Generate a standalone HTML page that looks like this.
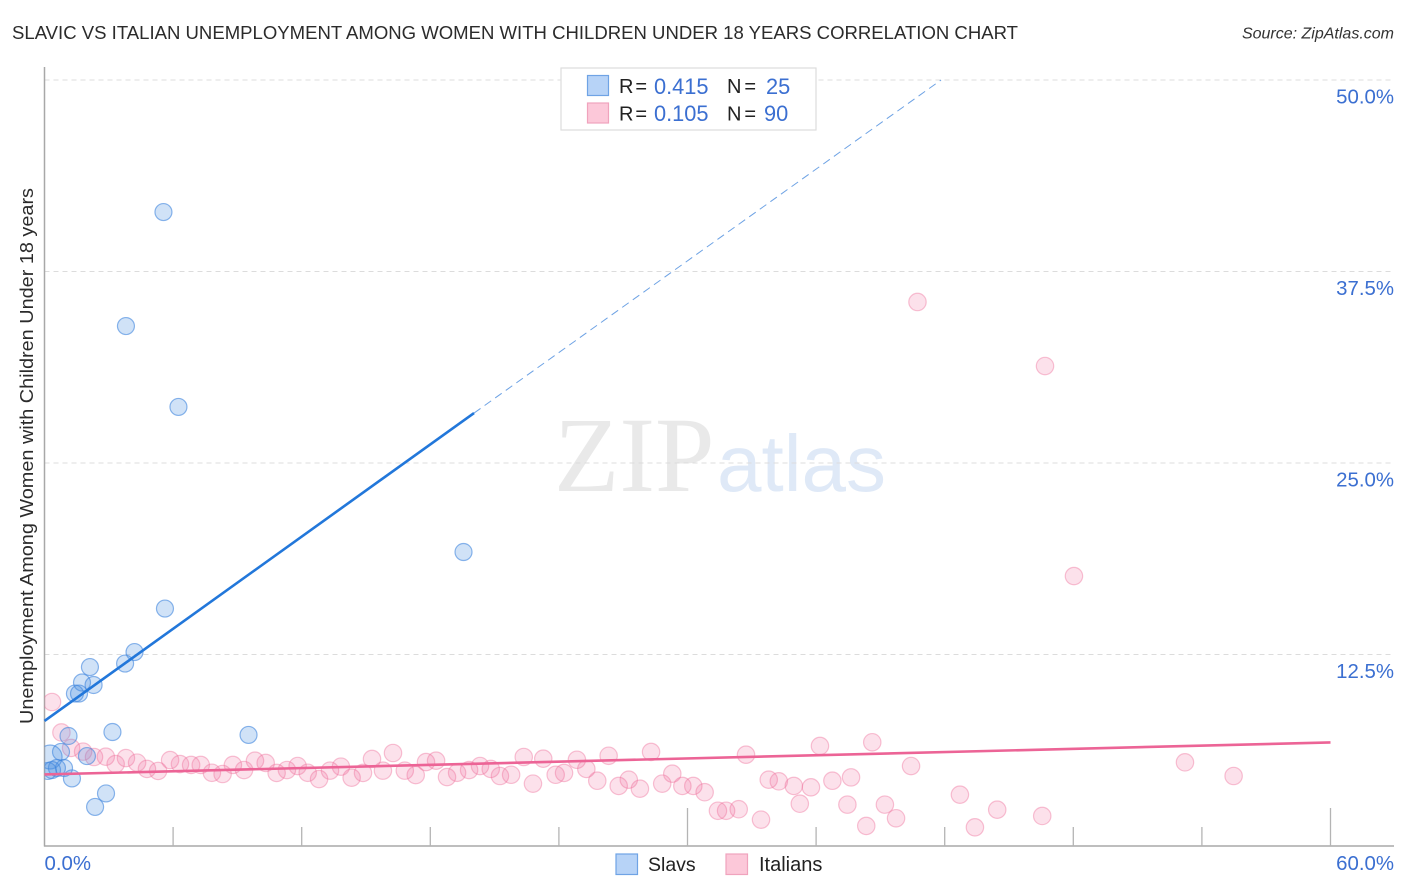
<!DOCTYPE html>
<html lang="en">
<head>
<meta charset="utf-8">
<title>Slavic vs Italian Unemployment Correlation Chart</title>
<style>
  html, body { margin: 0; padding: 0; background: #fff; }
  svg { display: block; font-family: "Liberation Sans", sans-serif; }
  .tick-label { fill: #3b6fd1; font-size: 20.4px; }
  .legend-text { fill: #222; font-size: 20px; }
  .legend-value { fill: #3b6fd1; font-size: 21.8px; }
</style>
</head>
<body>
<svg id="chart" width="1406" height="892" viewBox="0 0 1406 892" xmlns="http://www.w3.org/2000/svg">
  <defs>
    <clipPath id="plot-clip"><rect x="44.5" y="60" width="1350" height="786"></rect></clipPath>
  </defs>
  <rect x="0" y="0" width="1406" height="892" fill="#ffffff"></rect>

  <text x="12" y="39" font-size="18.5" fill="#2b2b2b" textLength="1006" lengthAdjust="spacingAndGlyphs">SLAVIC VS ITALIAN UNEMPLOYMENT AMONG WOMEN WITH CHILDREN UNDER 18 YEARS CORRELATION CHART</text>
  <text x="1394" y="38.5" font-size="16" font-style="italic" fill="#333" text-anchor="end">Source: ZipAtlas.com</text>

  <text x="554" y="491" font-family="'Liberation Serif', serif" font-size="107" fill="#e9e9e9">ZIP</text>
  <text x="717" y="491" font-size="80" fill="#dfe9f7">atlas</text>

  <g id="grid-layer"></g>
  <g id="axis-layer"></g>
  <g id="point-layer" clip-path="url(#plot-clip)"></g>
  <g id="line-layer"></g>
  <g id="tick-label-layer"></g>

  <text transform="translate(33,456) rotate(-90)" font-size="18.5" fill="#2b2b2b" text-anchor="middle" textLength="536" lengthAdjust="spacingAndGlyphs">Unemployment Among Women with Children Under 18 years</text>

  <g>
    <rect x="561" y="68" width="255" height="62" fill="#ffffff" stroke="#dddddd" stroke-width="1.2"></rect>
    <rect x="587.5" y="75.5" width="21" height="20" fill="#b7d3f7" stroke="#6fa3e5" stroke-width="1.2"></rect>
    <rect x="587.5" y="103" width="21" height="20" fill="#fcc8d9" stroke="#f0a3bd" stroke-width="1.2"></rect>
    <text class="legend-text" x="619" y="93" textLength="28" lengthAdjust="spacing">R =</text>
    <text class="legend-value" x="654" y="94">0.415</text>
    <text class="legend-text" x="727" y="93" textLength="29" lengthAdjust="spacing">N =</text>
    <text class="legend-value" x="766" y="94">25</text>
    <text class="legend-text" x="619" y="120.5" textLength="28" lengthAdjust="spacing">R =</text>
    <text class="legend-value" x="654" y="121">0.105</text>
    <text class="legend-text" x="727" y="120.5" textLength="29" lengthAdjust="spacing">N =</text>
    <text class="legend-value" x="764" y="121">90</text>
  </g>

  <g>
    <rect x="616" y="854" width="21.5" height="20.5" fill="#b7d3f7" stroke="#6fa3e5" stroke-width="1.2"></rect>
    <text x="648" y="871" font-size="19.5" fill="#222">Slavs</text>
    <rect x="726" y="854" width="21.5" height="20.5" fill="#fcc8d9" stroke="#f0a3bd" stroke-width="1.2"></rect>
    <text x="759" y="871" font-size="20" fill="#222">Italians</text>
  </g>
</svg>

<script>
// ---- data (percent values) ----
const xTicks = [0, 6, 12, 18, 24, 30, 36, 42, 48, 54, 60];
const majorXTicks = [30, 60];
const yGridTicks = [12.5, 25, 37.5, 50];
const yTickLabels = ["12.5%", "25.0%", "37.5%", "50.0%"];
const xEndLabels = ["0.0%", "60.0%"];

const slavsX = [5.55, 3.80, 6.25, 19.55, 5.62, 4.20, 3.76, 2.12, 1.75, 2.29, 1.42, 1.61, 3.17, 9.52, 1.12, 0.77, 1.98, 0.26, 0.91, 1.28, 2.87, 2.36, 0.58, 0.35, 0.16];
const slavsY = [41.38, 33.94, 28.66, 19.19, 15.50, 12.66, 11.91, 11.68, 10.67, 10.51, 9.95, 9.95, 7.44, 7.25, 7.18, 6.14, 5.87, 5.81, 5.09, 4.41, 3.43, 2.55, 5.09, 4.96, 4.90];

const italiansX = [0.35, 0.79, 1.24, 1.80, 2.31, 2.86, 3.32, 3.80, 4.32, 4.78, 5.30, 5.86, 6.32, 6.84, 7.29, 7.81, 8.31, 8.79, 9.31, 9.82, 10.32, 10.83, 11.31, 11.81, 12.28, 12.81, 13.32, 13.83, 14.33, 14.86, 15.28, 15.79, 16.26, 16.81, 17.32, 17.80, 18.27, 18.78, 19.25, 19.81, 20.32, 20.82, 21.25, 21.77, 22.36, 22.79, 23.27, 23.85, 24.24, 24.84, 25.28, 25.79, 26.32, 26.79, 27.26, 27.78, 28.30, 28.82, 29.29, 29.76, 30.27, 30.80, 31.42, 31.80, 32.39, 33.43, 32.73, 33.79, 34.26, 34.96, 35.76, 35.24, 36.18, 36.76, 37.63, 37.46, 38.62, 38.34, 39.21, 39.73, 40.43, 42.71, 43.41, 44.45, 46.55, 53.21, 55.48, 40.73, 46.68, 48.03];
const italiansY = [9.40, 7.41, 6.40, 6.16, 5.81, 5.83, 5.35, 5.74, 5.44, 5.03, 4.90, 5.61, 5.35, 5.29, 5.29, 4.78, 4.70, 5.29, 4.96, 5.57, 5.42, 4.77, 4.96, 5.22, 4.78, 4.37, 4.92, 5.18, 4.46, 4.77, 5.68, 4.92, 6.07, 4.92, 4.63, 5.48, 5.57, 4.50, 4.78, 4.96, 5.22, 5.03, 4.57, 4.65, 5.81, 4.07, 5.70, 4.65, 4.77, 5.63, 5.03, 4.26, 5.89, 3.92, 4.33, 3.74, 6.14, 4.07, 4.72, 3.92, 3.92, 3.51, 2.30, 2.30, 2.40, 1.72, 5.96, 4.33, 4.22, 3.92, 3.83, 2.76, 6.53, 4.26, 4.48, 2.70, 6.77, 1.31, 2.70, 1.81, 5.22, 3.35, 1.22, 2.37, 1.96, 5.46, 4.57, 35.51, 31.33, 17.62];

const slavsTrendX = [0, 20.04];
const slavsTrendY = [8.16, 28.26];
const slavsProjectionX = [20.04, 41.83];
const slavsProjectionY = [28.26, 50];
const italiansTrendX = [0, 60];
const italiansTrendY = [4.67, 6.76];

// ---- axis functions ----
const xScale = v => 44.5 + v * (1286 / 60);
const yScale = v => 846 - v * (766 / 50);

const NS = 'http://www.w3.org/2000/svg';
function make(tag, parentId, props) {
  const el = document.createElementNS(NS, tag);
  for (const k in props) el.setAttribute(k, props[k]);
  document.getElementById(parentId).appendChild(el);
  return el;
}

// gridlines
yGridTicks.forEach(v => {
  const g = make('line', 'grid-layer', { x1: 44.5, x2: 1394, y1: yScale(v), y2: yScale(v), stroke: '#dcdcdc', 'stroke-width': 1, 'stroke-dasharray': '5 4' });
  
  
});

// axes
const yAxis = make('line', 'axis-layer', { x1: 44.5, x2: 44.5, y1: 67, y2: 846.5, stroke: '#a8a8a8', 'stroke-width': 1.5 });


const xAxis = make('line', 'axis-layer', { x1: 44, x2: 1394, y1: 846, y2: 846, stroke: '#a8a8a8', 'stroke-width': 1.5 });


xTicks.forEach(v => {
  if (v === 0) return;
  const len = majorXTicks.includes(v) ? 38 : 19;
  const t = make('line', 'axis-layer', { x1: xScale(v), x2: xScale(v), y1: 846, y2: 846 - len, stroke: '#b4b4b4', 'stroke-width': 1.3 });
  
  
});

// tick labels
yGridTicks.forEach((v, i) => {
  const t = make('text', 'tick-label-layer', { x: 1394, y: yScale(v) + 23.5, 'text-anchor': 'end', class: 'tick-label' });
  t.textContent = yTickLabels[i];
  
  
});
const xLabelLeft = make('text', 'tick-label-layer', { x: 44.5, y: 870, class: 'tick-label' });
xLabelLeft.textContent = xEndLabels[0];


const xLabelRight = make('text', 'tick-label-layer', { x: 1394, y: 870, 'text-anchor': 'end', class: 'tick-label' });
xLabelRight.textContent = xEndLabels[1];



// points
italiansX.forEach((v, i) => {
  const c = make('circle', 'point-layer', { cx: xScale(v), cy: yScale(italiansY[i]), r: 8.7, fill: '#f06a9a', 'fill-opacity': 0.2, stroke: '#ee6f9c', 'stroke-opacity': 0.42, 'stroke-width': 1.2 });
  
  
});
slavsX.forEach((v, i) => {
  const big = v < 0.3 && slavsY[i] > 5.5;
  const c = make('circle', 'point-layer', { cx: xScale(v), cy: yScale(slavsY[i]), r: big ? 12 : 8.5, fill: '#4a90e2', 'fill-opacity': 0.26, stroke: '#3f85de', 'stroke-opacity': 0.6, 'stroke-width': 1.2 });
  
  
});

// trend lines
const proj = make('line', 'line-layer', { x1: xScale(slavsProjectionX[0]), y1: yScale(slavsProjectionY[0]), x2: xScale(slavsProjectionX[1]), y2: yScale(slavsProjectionY[1]), stroke: '#2f7ad8', 'stroke-width': 1, 'stroke-opacity': 0.7, 'stroke-dasharray': '8 5' });


const slavsLine = make('line', 'line-layer', { x1: xScale(slavsTrendX[0]), y1: yScale(slavsTrendY[0]), x2: xScale(slavsTrendX[1]), y2: yScale(slavsTrendY[1]), stroke: '#2277da', 'stroke-width': 2.6 });


const italiansLine = make('line', 'line-layer', { x1: xScale(italiansTrendX[0]), y1: yScale(italiansTrendY[0]), x2: xScale(italiansTrendX[1]), y2: yScale(italiansTrendY[1]), stroke: '#ec6496', 'stroke-width': 2.6 });


</script>
</body>
</html>
